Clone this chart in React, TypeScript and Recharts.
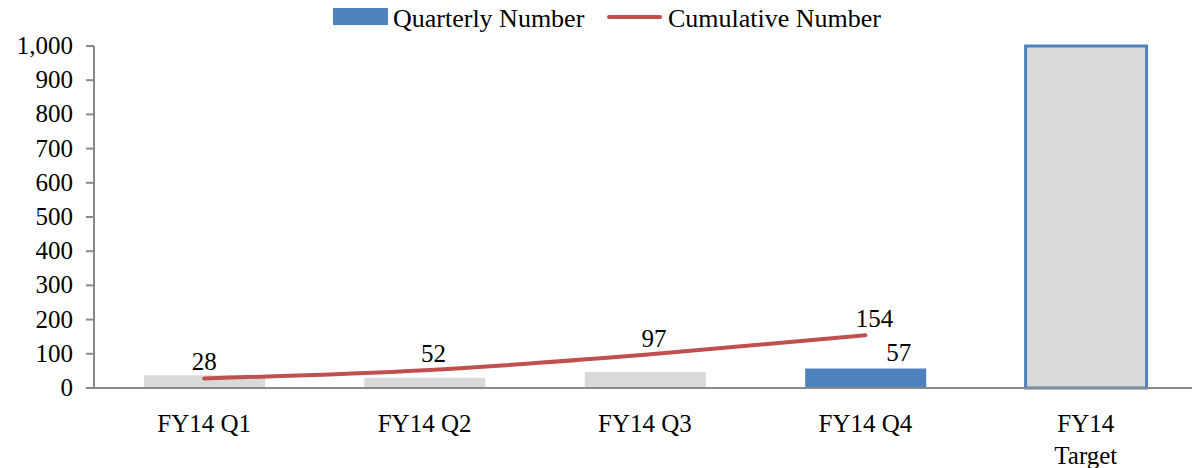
import { Bar, Cell, ComposedChart, LabelList, Line, XAxis, YAxis } from "recharts";

const categories = ["FY14 Q1", "FY14 Q2", "FY14 Q3", "FY14 Q4", "FY14 Target"];
const quarterly = [37, 30, 47, 57, 1000];
const quarterlyLabels = [null, null, null, 57, null];
const cumulative = [28, 52, 97, 154, null];
const yTicks = [0, 100, 200, 300, 400, 500, 600, 700, 800, 900, 1000];

const FONT = '"Liberation Serif", "Times New Roman", serif';
const GREY = "#D9D9D9";
const BLUE = "#4F81BD";
const RED = "#C0504D";
const AXIS = "#898989";

const textStyle = { fontFamily: FONT, fontSize: 25, fill: "#000" };

const data = categories.map((name, i) => ({
  name,
  quarterly: quarterly[i],
  quarterlyLabel: quarterlyLabels[i],
  cumulative: cumulative[i],
}));

// long labels ("FY14 Target") go on two lines
function XTick(props: any) {
  const { x, y, payload } = props;
  const value = String(payload.value);
  const lines = value.length > 8 ? value.split(" ") : [value];
  return (
    <text x={x} y={y} textAnchor="middle" style={textStyle}>
      {lines.map((l, i) => (
        <tspan key={l} x={x} dy={i === 0 ? 17 : 32}>
          {l}
        </tspan>
      ))}
    </text>
  );
}

function YTick(props: any) {
  const { x, y, payload } = props;
  return (
    <text x={x} y={y} dy={8} textAnchor="end" style={textStyle}>
      {Number(payload.value).toLocaleString("en-US")}
    </text>
  );
}

function LineLabel(props: any) {
  const { x, y, value, index } = props;
  if (value == null) return null;
  return (
    <text x={x + (index === 0 ? 0 : 9)} y={y - 8} textAnchor="middle" style={textStyle}>
      {value}
    </text>
  );
}

function BarLabel(props: any) {
  const { x, y, width, value } = props;
  if (value == null) return null;
  return (
    <text x={x + width / 2 + 33} y={y - 8} textAnchor="middle" style={textStyle}>
      {value}
    </text>
  );
}

function LegendRow() {
  const text = {
    position: "absolute" as const,
    top: 6,
    fontSize: 26,
    lineHeight: "26px",
    fontFamily: FONT,
    whiteSpace: "nowrap" as const,
  };
  return (
    <>
      <div style={{ position: "absolute", left: 333, top: 8, width: 55, height: 17, background: BLUE }} />
      <div style={{ ...text, left: 393 }}>Quarterly Number</div>
      <div style={{ position: "absolute", left: 607, top: 15, width: 55, height: 4, background: RED, borderRadius: 2 }} />
      <div style={{ ...text, left: 668 }}>Cumulative Number</div>
    </>
  );
}

export default function App() {
  return (
    <div
      style={{
        position: "absolute",
        left: 0,
        top: 0,
        width: 1192,
        height: 468,
        overflow: "hidden",
        background: "#fff",
        fontFamily: FONT,
      }}
    >
      <ComposedChart width={1196} height={468} data={data} margin={{ top: 46, right: 0, bottom: 0, left: 0 }}>
        <XAxis
          dataKey="name"
          height={80}
          axisLine={{ stroke: AXIS, strokeWidth: 2 }}
          tickLine={false}
          tickSize={0}
          tickMargin={27}
          tick={<XTick />}
          interval={0}
        />
        <YAxis
          width={94}
          domain={[0, 1000]}
          ticks={yTicks}
          interval={0}
          axisLine={{ stroke: AXIS, strokeWidth: 2 }}
          tickLine={{ stroke: AXIS, strokeWidth: 2 }}
          tickSize={8}
          tickMargin={13}
          tick={<YTick />}
        />
        <Bar dataKey="quarterly" barSize={121} isAnimationActive={false}>
          {data.map((row, i) => (
            <Cell
              key={row.name}
              fill={i === 3 ? BLUE : GREY}
              stroke={i === 4 ? BLUE : "none"}
              strokeWidth={i === 4 ? 3 : 0}
            />
          ))}
          <LabelList dataKey="quarterlyLabel" content={<BarLabel />} />
        </Bar>
        <Line
          dataKey="cumulative"
          type="monotone"
          stroke={RED}
          strokeWidth={4}
          strokeLinecap="round"
          dot={false}
          activeDot={false}
          isAnimationActive={false}
        >
          <LabelList dataKey="cumulative" content={<LineLabel />} />
        </Line>
      </ComposedChart>
      <LegendRow />
    </div>
  );
}
